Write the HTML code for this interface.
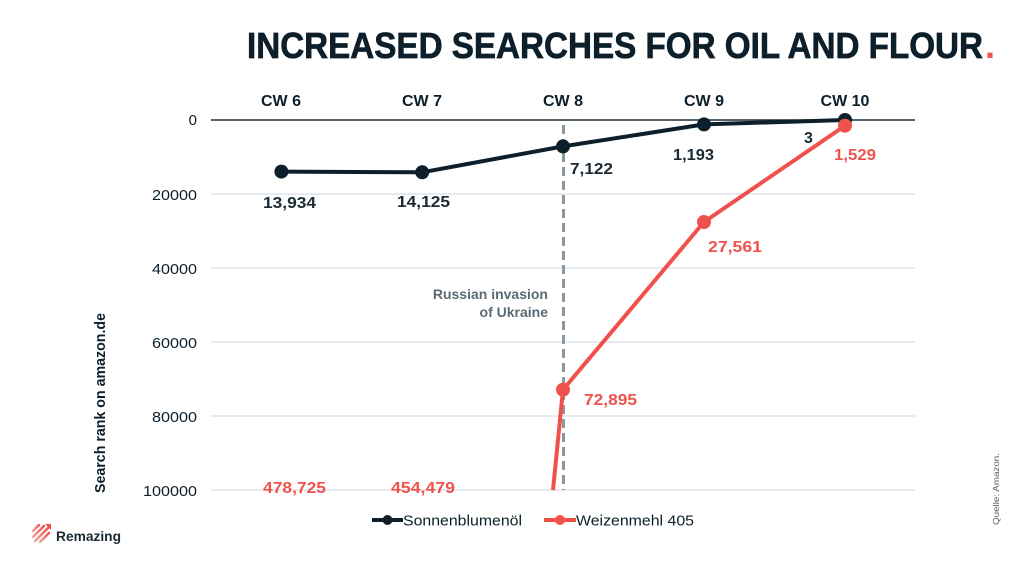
<!DOCTYPE html>
<html>
<head>
<meta charset="utf-8">
<style>
  html,body{margin:0;padding:0;background:#fff;width:1024px;height:576px;overflow:hidden;}
  svg{display:block;}
  text{font-family:"Liberation Sans",Arial,sans-serif;}
</style>
</head>
<body>
<svg width="1024" height="576" viewBox="0 0 1024 576" xmlns="http://www.w3.org/2000/svg">
  <rect x="0" y="0" width="1024" height="576" fill="#ffffff"/>

  <!-- Title -->
  <text x="247" y="58" font-size="36" font-weight="bold" fill="#0d1f2a" stroke="#0d1f2a" stroke-width="0.7" textLength="736" lengthAdjust="spacingAndGlyphs">INCREASED SEARCHES FOR OIL AND FLOUR</text>
  <text x="985" y="58" font-size="36" font-weight="bold" fill="#ef524d">.</text>

  <!-- Category labels -->
  <g font-size="16" font-weight="bold" fill="#0d1f2a" text-anchor="middle">
    <text x="281" y="106">CW 6</text>
    <text x="422" y="106">CW 7</text>
    <text x="563" y="106">CW 8</text>
    <text x="704" y="106">CW 9</text>
    <text x="845" y="106">CW 10</text>
  </g>

  <!-- Gridlines -->
  <g stroke="#dfe3e8" stroke-width="1.5">
    <line x1="211" y1="194" x2="915" y2="194"/>
    <line x1="211" y1="268" x2="915" y2="268"/>
    <line x1="211" y1="342" x2="915" y2="342"/>
    <line x1="211" y1="416" x2="915" y2="416"/>
    <line x1="211" y1="490" x2="915" y2="490"/>
  </g>
  <line x1="211" y1="120" x2="915" y2="120" stroke="#1c2e38" stroke-width="1.5"/>

  <!-- Y tick labels -->
  <g font-size="15" fill="#0d1f2a" text-anchor="end">
    <text x="197" y="125">0</text>
    <text x="197" y="200" textLength="45" lengthAdjust="spacingAndGlyphs">20000</text>
    <text x="197" y="274" textLength="45" lengthAdjust="spacingAndGlyphs">40000</text>
    <text x="197" y="348" textLength="45" lengthAdjust="spacingAndGlyphs">60000</text>
    <text x="197" y="422" textLength="45" lengthAdjust="spacingAndGlyphs">80000</text>
    <text x="197" y="496" textLength="54" lengthAdjust="spacingAndGlyphs">100000</text>
  </g>

  <!-- Y axis title -->
  <text transform="translate(105,403) rotate(-90)" font-size="15" font-weight="bold" fill="#0d1f2a" text-anchor="middle" textLength="180" lengthAdjust="spacingAndGlyphs">Search rank on amazon.de</text>

  <!-- Dashed event line -->
  <line x1="563.5" y1="125" x2="563.5" y2="490" stroke="#8c979e" stroke-width="3" stroke-dasharray="9,5"/>
  <g font-size="14" font-weight="bold" fill="#5c6a73" text-anchor="end">
    <text x="548" y="299">Russian invasion</text>
    <text x="548" y="317">of Ukraine</text>
  </g>

  <!-- Red series -->
  <polyline points="553,490 563,389.7 704,222 845,125.7" fill="none" stroke="#ef524d" stroke-width="4" stroke-linejoin="round"/>

  <!-- Dark series -->
  <polyline points="281.4,171.6 422.2,172.3 563,146.4 704,124.4 845,120" fill="none" stroke="#0d1f2a" stroke-width="4" stroke-linejoin="round"/>
  <g fill="#0d1f2a">
    <circle cx="281.4" cy="171.6" r="7"/>
    <circle cx="422.2" cy="172.3" r="7"/>
    <circle cx="563" cy="146.4" r="7"/>
    <circle cx="704" cy="124.4" r="7"/>
    <circle cx="845" cy="120" r="7"/>
  </g>
  <g fill="#ef524d">
    <circle cx="563" cy="389.7" r="7"/>
    <circle cx="704" cy="222" r="7"/>
    <circle cx="845" cy="125.7" r="7"/>
  </g>

  <!-- Data labels -->
  <g font-size="16" font-weight="bold" fill="#1a2a33">
    <text x="263" y="208" textLength="53" lengthAdjust="spacingAndGlyphs">13,934</text>
    <text x="397" y="207" textLength="53" lengthAdjust="spacingAndGlyphs">14,125</text>
    <text x="570" y="174" textLength="43" lengthAdjust="spacingAndGlyphs">7,122</text>
    <text x="673" y="160" textLength="41" lengthAdjust="spacingAndGlyphs">1,193</text>
    <text x="804" y="143">3</text>
  </g>
  <g font-size="16" font-weight="bold" fill="#ef524d">
    <text x="834" y="160" textLength="42" lengthAdjust="spacingAndGlyphs">1,529</text>
    <text x="708" y="252" textLength="54" lengthAdjust="spacingAndGlyphs">27,561</text>
    <text x="584" y="405" textLength="53" lengthAdjust="spacingAndGlyphs">72,895</text>
    <text x="263" y="493" textLength="63" lengthAdjust="spacingAndGlyphs">478,725</text>
    <text x="391" y="493" textLength="64" lengthAdjust="spacingAndGlyphs">454,479</text>
  </g>

  <!-- Legend -->
  <line x1="372" y1="520" x2="403" y2="520" stroke="#0d1f2a" stroke-width="4"/>
  <circle cx="387.5" cy="520" r="5" fill="#0d1f2a"/>
  <text x="403" y="525.5" font-size="15" fill="#0d1f2a" textLength="119" lengthAdjust="spacingAndGlyphs">Sonnenblumenöl</text>
  <line x1="544" y1="520" x2="576" y2="520" stroke="#ef524d" stroke-width="4"/>
  <circle cx="560" cy="520" r="5" fill="#ef524d"/>
  <text x="576" y="525.5" font-size="15" fill="#0d1f2a" textLength="118" lengthAdjust="spacingAndGlyphs">Weizenmehl 405</text>

  <!-- Source -->
  <text transform="translate(999,489) rotate(-90)" font-size="8.5" fill="#555c61" text-anchor="middle" textLength="72" lengthAdjust="spacingAndGlyphs">Quelle: Amazon.</text>

  <!-- Logo -->
  <defs>
    <linearGradient id="lg" x1="0" y1="1" x2="1" y2="0">
      <stop offset="0" stop-color="#f7a39d"/>
      <stop offset="1" stop-color="#ef524d"/>
    </linearGradient>
  </defs>
  <g stroke="url(#lg)" stroke-width="2.4" stroke-linecap="round">
    <line x1="33" y1="531" x2="39" y2="525"/>
    <line x1="33" y1="537" x2="44" y2="526"/>
    <line x1="35" y1="541" x2="48" y2="528"/>
    <line x1="40" y1="542" x2="49" y2="533"/>
  </g>
  <polygon points="45,524 51,524 51,530" fill="#ef524d"/>
  <text x="56" y="541" font-size="14" font-weight="bold" fill="#1c2a33" textLength="65" lengthAdjust="spacingAndGlyphs">Remazing</text>
</svg>
</body>
</html>
